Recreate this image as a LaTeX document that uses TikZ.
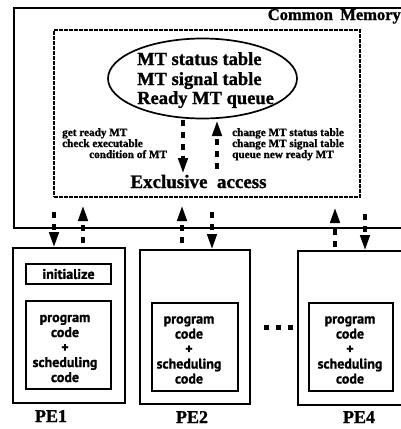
\documentclass[tikz,border=0pt]{standalone}
\usepackage{fontspec}
\setmainfont{Liberation Serif}[BoldFeatures={FakeBold=1.2}]
\newfontfamily\codefont{PT Sans}[BoldFeatures={FakeBold=1.2}]
\usetikzlibrary{arrows.meta,shapes.geometric}

\tikzset{
  memframe/.style={draw, line width=1.9pt, inner sep=0pt, outer sep=0pt},
  dashbox/.style={draw, line width=1.8pt, dash pattern=on 4pt off 1pt, inner sep=0pt, outer sep=0pt},
  tablering/.style={draw, ellipse, line width=1.7pt, inner sep=0pt, outer sep=0pt},
  pebox/.style={draw, line width=1.9pt, inner sep=0pt, outer sep=0pt},
  codebox/.style={draw, line width=1.7pt, inner sep=0pt, outer sep=0pt},
  bigtext/.style={inner sep=0pt, font=\fontsize{18.5}{20}\selectfont\bfseries},
  notetext/.style={inner sep=0pt, font=\fontsize{11.2}{12}\selectfont\bfseries},
  codetext/.style={inner sep=0pt, align=center, font=\codefont\bfseries\fontsize{14}{15}\selectfont},
  pelabel/.style={inner sep=0pt, font=\fontsize{18}{20}\selectfont\bfseries},
  dotarrow/.style={line width=4pt, dash pattern=on 6pt off 6pt,
    -{Triangle[length=16pt,width=9pt]}},
}

\begin{document}
\begin{tikzpicture}[x=1pt,y=-1pt]
\useasboundingbox (0,0) rectangle (401,429);
\fill[white] (0,0) rectangle (401,429);

% common memory
\node[memframe, minimum width=420pt, minimum height=220pt, anchor=north west] (memory) at (14,8) {};
\node[inner sep=0pt, font=\fontsize{16.5}{18}\selectfont\bfseries, anchor=base east] (memlabel) at (401,20) {Common\hspace{0.45em}Memory};

% region under exclusive access
\node[dashbox, minimum width=306pt, minimum height=167pt, anchor=north west] (excl) at (54,30) {};
\node[tablering, minimum width=189pt, minimum height=80pt] (tables) at (202.5,78.5) {};
\node[bigtext, anchor=base west] (tab1) at (137,65) {MT status table};
\node[bigtext, anchor=base west] (tab2) at (137,85) {MT signal table};
\node[bigtext, anchor=base west] (tab3) at (137,104) {Ready MT queue};
\node[inner sep=0pt, font=\fontsize{19}{21}\selectfont\bfseries, anchor=base] (access) at (198.5,188) {Exclusive\hspace{0.5em}access};

\node[notetext, anchor=base west] (get1) at (62,136) {get ready MT};
\node[notetext, anchor=base west] (get2) at (62,147) {check executable};
\node[notetext, anchor=base west] (get3) at (89,158) {condition of MT};
\node[notetext, anchor=base west] (chg1) at (232,136) {change MT status table};
\node[notetext, anchor=base west] (chg2) at (232,147) {change MT signal table};
\node[notetext, anchor=base west] (chg3) at (232,158) {queue new ready MT};

\coordinate (getA) at (183,120);
\coordinate (getB) at (183,174);
\coordinate (chgA) at (217,169);
\coordinate (chgB) at (217,120);
\draw[dotarrow] (getA) -- (getB);
\draw[dotarrow] (chgA) -- (chgB);

% processing elements
\node[pebox, minimum width=112pt, minimum height=155pt, anchor=north west] (pe1) at (13,248) {};
\node[pebox, minimum width=110pt, minimum height=154pt, anchor=north west] (pe2) at (140,250) {};
\node[pebox, minimum width=140pt, minimum height=154pt, anchor=north west] (pe4) at (298,251) {};

\node[codebox, minimum width=85pt, minimum height=20pt, font=\codefont\bfseries\fontsize{14}{15}\selectfont] (init) at (68.5,274) {initialize};
\node[codebox, minimum width=85pt, minimum height=88pt, anchor=north west] (code1) at (26,301) {};
\node[codebox, minimum width=86pt, minimum height=88pt, anchor=north west] (code2) at (152,303) {};
\node[codebox, minimum width=84pt, minimum height=88pt, anchor=north west] (code4) at (309,303) {};

\node[codetext] (code1txt) at (65,348.5) {program\\code\\+\\scheduling\\code};
\node[codetext] (code2txt) at (189,350) {program\\code\\+\\scheduling\\code};
\node[codetext] (code4txt) at (350,350) {program\\code\\+\\scheduling\\code};

\node[pelabel, anchor=base] (pe1lab) at (51,422) {PE1};
\node[pelabel, anchor=base] (pe2lab) at (192,423) {PE2};
\node[pelabel, anchor=base] (pe4lab) at (359,423) {PE4};

% ellipsis between PE2 and PE4
\foreach \dx in {263.5,275.5,287.5}
  \fill (\dx,325) rectangle +(5.5,5);

% transfers between memory and the processing elements
\coordinate (dn1) at (54,212);
\coordinate (up1a) at (83,243);
\coordinate (up1b) at (83,205);
\coordinate (up2a) at (182,243);
\coordinate (up2b) at (182,205);
\coordinate (dn2) at (212,212);
\coordinate (up4a) at (335,247);
\coordinate (up4b) at (335,207);
\coordinate (dn4) at (365,214);

\draw[dotarrow] (dn1) -- (dn1 |- pe1.north);
\draw[dotarrow] (up1a) -- (up1b);
\draw[dotarrow] (up2a) -- (up2b);
\draw[dotarrow] (dn2) -- (dn2 |- pe2.north);
\draw[dotarrow] (up4a) -- (up4b);
\draw[dotarrow] (dn4) -- (dn4 |- pe4.north);
\end{tikzpicture}
\end{document}
